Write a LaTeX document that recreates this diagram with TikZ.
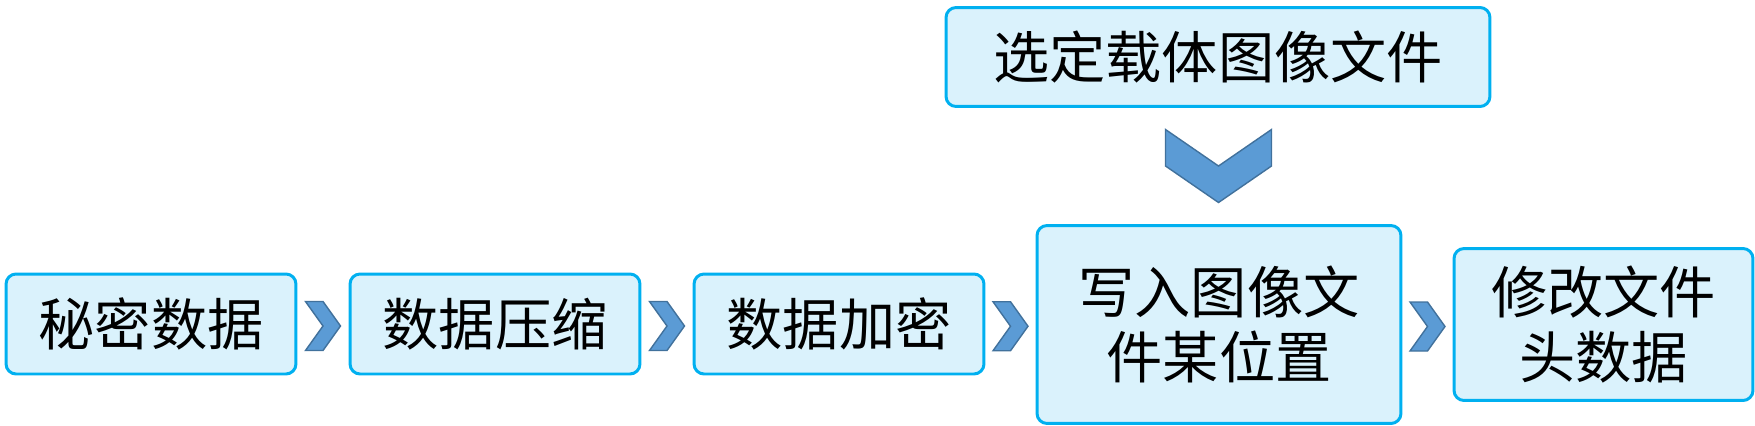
\documentclass[tikz,border=0pt]{standalone}
\usepackage{fontspec}
\newfontfamily\cjk{Noto Sans CJK SC}
\usepackage{tikz}
\usetikzlibrary{calc}
\definecolor{boxfill}{RGB}{218,242,252}
\definecolor{boxline}{RGB}{0,176,240}
\definecolor{chevfill}{RGB}{91,155,213}
\definecolor{chevline}{RGB}{65,113,156}
\tikzset{
	procbox/.style={draw=boxline, fill=boxfill, line width=1.7pt, rounded corners=0.2cm,
		align=center, inner sep=0pt, font=\cjk\fontsize{32}{37}\selectfont},
	smallbox/.style={procbox, minimum width=5.8cm, minimum height=2cm},
	chev/.style={draw=chevline, fill=chevfill, line width=0.8pt, line join=miter},
	rightchev/.pic={\draw[chev] (-17.5,-24.5) -- (0,-24.5) -- (17.5,0) -- (0,24.5)
		-- (-17.5,24.5) -- (0,0) -- cycle;},
	downchev/.pic={\draw[chev] (-53,-36.5) -- (0,0) -- (53,-36.5) -- (53,0)
		-- (0,36.5) -- (-53,0) -- cycle;}
}
\begin{document}
\begin{tikzpicture}[x=0.02cm, y=-0.02cm]
		%% everything is in pixels of the 1755 x 426 sheet (1px = 0.02cm)
		\useasboundingbox (0,0) rectangle (1755,426);

		% main row
		\node[smallbox] (secret) at (151,324) {秘密数据};
		\node[smallbox] (compress) at (495,324) {数据压缩};
		\node[smallbox] (encrypt) at (839,324) {数据加密};
		\node[procbox, minimum width=7.28cm, minimum height=3.96cm] (write) at (1219,324.5) {写入图像文\\件某位置};
		\node[procbox, minimum width=5.98cm, minimum height=3.04cm] (header) at (1603.5,324.5) {修改文件\\头数据};

		% carrier image
		\node[procbox, minimum width=10.88cm, minimum height=1.98cm] (carrier) at (1218,57) {选定载体图像文件};

		% chevrons between the boxes
		\pic at ($(secret.east)!0.5!(compress.west)+(0,2)$) {rightchev};
		\pic at ($(compress.east)!0.5!(encrypt.west)+(0,2)$) {rightchev};
		\pic at ($(encrypt.east)!0.5!(write.west)+(0,2)$) {rightchev};
		\pic at ($(write.east)!0.5!(header.west)+(0,2)$) {rightchev};
		\pic at ($(carrier.south)!0.5!(write.north)$) {downchev};
	\end{tikzpicture}
\end{document}
